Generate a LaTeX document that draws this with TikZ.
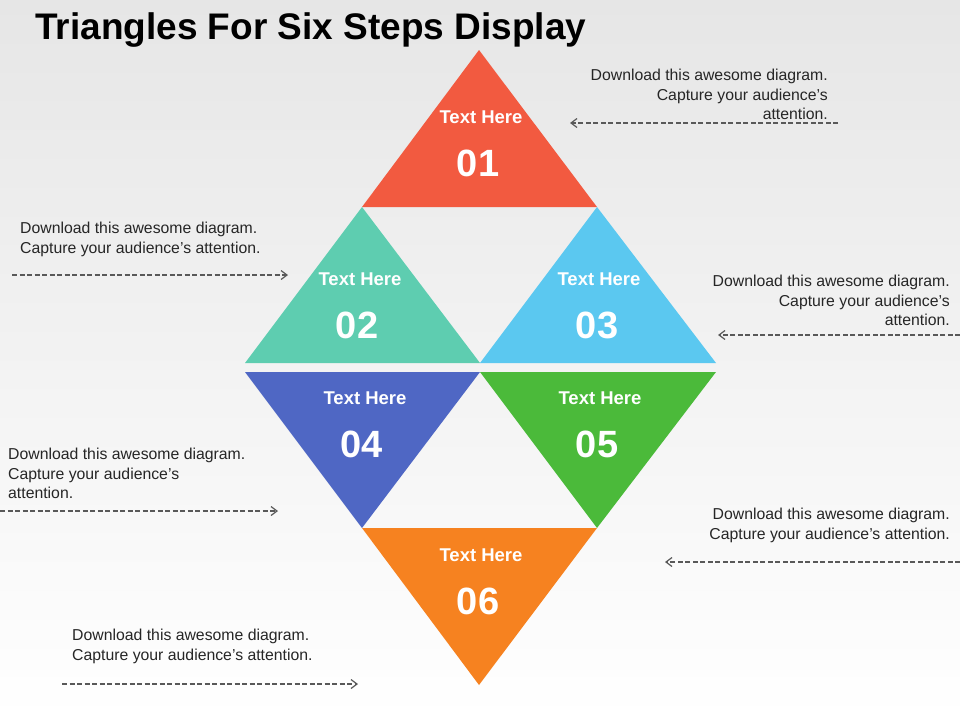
\documentclass[tikz,border=0pt]{standalone}
\usepackage{fontspec}
\setmainfont{Liberation Sans}
\usetikzlibrary{arrows.meta,positioning}
\definecolor{redtri}{HTML}{F25A40}
\definecolor{tealtri}{HTML}{5ECDB0}
\definecolor{skytri}{HTML}{5BC8F0}
\definecolor{bluetri}{HTML}{4F67C4}
\definecolor{greentri}{HTML}{4BBA3A}
\definecolor{orangetri}{HTML}{F68220}
\definecolor{bgtop}{HTML}{E6E6E6}
\definecolor{note}{HTML}{262626}
\begin{document}
\begin{tikzpicture}
	[x=1pt,y=-1pt,
	 %Styles
	 tri_label/.style={text=white,font=\bfseries\fontsize{18.5}{18.5}\selectfont,inner sep=0pt},
	 tri_number/.style={text=white,font=\bfseries\fontsize{38}{38}\selectfont,inner sep=0pt},
	 note_left/.style={align=left,anchor=north west,text=note,inner sep=0pt,font=\fontsize{15.8}{19.5}\selectfont},
	 note_right/.style={align=right,anchor=north east,text=note,inner sep=0pt,font=\fontsize{15.8}{19.5}\selectfont},
	 pointer/.style={dash pattern=on 5pt off 2.5pt,draw=black!65,line width=1.2pt,-{Straight Barb[length=6pt,width=9pt]}}
	]

	%Background
	\shade[top color=bgtop,bottom color=white] (0,0) rectangle (960,720);
	\useasboundingbox (0,0) rectangle (960,720);

	%Title
	\node[anchor=west,inner sep=0pt,font=\bfseries\fontsize{37}{37}\selectfont] (title) at (35,30) {Triangles For Six Steps Display};

	%Triangles
	\fill[redtri] (479,50) -- (597,207) -- (362,207) -- cycle;
	\fill[tealtri] (362,207) -- (480,363) -- (245,363) -- cycle;
	\fill[skytri] (597,207) -- (716,363) -- (480,363) -- cycle;
	\fill[bluetri] (245,372) -- (480,372) -- (362,528) -- cycle;
	\fill[greentri] (480,372) -- (716,372) -- (597,528) -- cycle;
	\fill[orangetri] (362,528) -- (597,528) -- (479,685) -- cycle;

	%Triangle texts
	\node[tri_label] (label1) at (481,117) {Text Here};
	\node[tri_number] (num1) at (478,163) {01};
	\node[tri_label] (label2) at (360,279) {Text Here};
	\node[tri_number] (num2) at (357,325) {02};
	\node[tri_label] (label3) at (599,279) {Text Here};
	\node[tri_number] (num3) at (597,325) {03};
	\node[tri_label] (label4) at (365,398) {Text Here};
	\node[tri_number] (num4) at (362,444) {04};
	\node[tri_label] (label5) at (600,398) {Text Here};
	\node[tri_number] (num5) at (597,444) {05};
	\node[tri_label] (label6) at (481,555) {Text Here};
	\node[tri_number] (num6) at (478,601) {06};

	%Notes
	\node[note_right] (note1) at (828,69) {Download this awesome diagram.\\Capture your audience’s\\attention.};
	\node[note_left] (note2) at (20,222) {Download this awesome diagram.\\Capture your audience’s attention.};
	\node[note_right] (note3) at (950,275) {Download this awesome diagram.\\Capture your audience’s\\attention.};
	\node[note_left] (note4) at (8,448) {Download this awesome diagram.\\Capture your audience’s\\attention.};
	\node[note_right] (note5) at (950,508) {Download this awesome diagram.\\Capture your audience’s attention.};
	\node[note_left] (note6) at (72,629) {Download this awesome diagram.\\Capture your audience’s attention.};

	%Pointers
	\coordinate (from1) at (838,123); \coordinate (to1) at (570,123);
	\coordinate (from2) at (12,275);  \coordinate (to2) at (288,275);
	\coordinate (from3) at (960,335); \coordinate (to3) at (718,335);
	\coordinate (from4) at (0,511);   \coordinate (to4) at (278,511);
	\coordinate (from5) at (960,562); \coordinate (to5) at (665,562);
	\coordinate (from6) at (62,684);  \coordinate (to6) at (358,684);
	\foreach \i in {1,...,6}
		\draw[pointer] (from\i) -- (to\i);
\end{tikzpicture}
\end{document}
